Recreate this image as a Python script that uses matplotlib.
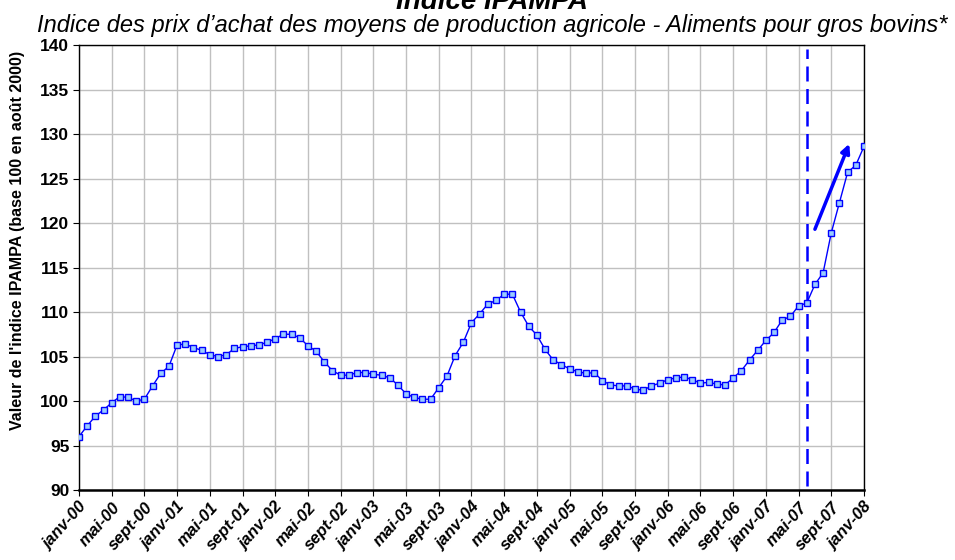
import matplotlib
matplotlib.use("Agg")
import matplotlib.pyplot as plt
import numpy as np

plt.rcParams['font.family'] = ['Liberation Sans', 'DejaVu Sans']

# Indice IPAMPA mensuel, de janv-00 à janv-08
indice = [96.0, 97.2, 98.3, 99.0, 99.8, 100.5, 100.4, 100.0, 100.2, 101.7, 103.1, 103.9,
          106.3, 106.4, 106.0, 105.7, 105.2, 105.0, 105.2, 105.9, 106.1, 106.2, 106.3, 106.6,
          107.0, 107.5, 107.5, 107.1, 106.2, 105.6, 104.4, 103.4, 102.9, 102.9, 103.2, 103.2,
          103.0, 102.9, 102.6, 101.8, 100.8, 100.4, 100.2, 100.2, 101.5, 102.8, 105.1, 106.6,
          108.8, 109.8, 110.9, 111.3, 112.0, 112.0, 110.0, 108.4, 107.4, 105.8, 104.6, 104.1,
          103.6, 103.3, 103.1, 103.2, 102.3, 101.8, 101.7, 101.7, 101.35, 101.2, 101.7, 102.0,
          102.4, 102.6, 102.7, 102.4, 102.0, 102.1, 101.9, 101.8, 102.6, 103.4, 104.6, 105.7,
          106.8, 107.7, 109.1, 109.5, 110.7, 111.0, 113.1, 114.4, 118.9, 122.3, 125.7, 126.5,
          128.6]

etiquettes = ["janv-00", "mai-00", "sept-00", "janv-01", "mai-01", "sept-01",
              "janv-02", "mai-02", "sept-02", "janv-03", "mai-03", "sept-03",
              "janv-04", "mai-04", "sept-04", "janv-05", "mai-05", "sept-05",
              "janv-06", "mai-06", "sept-06", "janv-07", "mai-07", "sept-07", "janv-08"]

mois = np.arange(len(indice))
mois_rupture = 89          # juin-07
fleche_debut = (90, 119.3)
fleche_fin = (94.2, 128.9)

fig = plt.figure(figsize=(9.55, 5.6), dpi=100)
ax = fig.add_axes([0.0827, 0.125, 0.822, 0.7946])

ax.plot(mois, indice, color='#0000ff', linewidth=1, marker='s', markersize=4.8,
        markerfacecolor='#99ccff', markeredgecolor='#0000ff', markeredgewidth=1, zorder=3)

# ligne de rupture en pointillés
ax.axvline(mois_rupture, ymin=0.01, ymax=0.99, color='#0000ff', linestyle=(0, (6, 3)),
           linewidth=1.8, zorder=2)

# flèche de tendance
ax.annotate("", xy=fleche_fin, xytext=fleche_debut,
            arrowprops=dict(arrowstyle='-|>', color='#0000ff', lw=2.5, mutation_scale=13,
                            shrinkA=0, shrinkB=0))

ax.set_xlim(0, len(indice) - 1)
ax.set_ylim(90, 140)
ax.set_xticks(mois[::4])
ax.set_xticklabels(etiquettes, rotation=48, ha='right', rotation_mode='anchor',
                   fontsize=12, fontweight='bold', fontstyle='italic')
ax.set_yticks(np.arange(90, 141, 5))
ax.tick_params(axis='y', labelsize=12.5, length=4, direction='out', pad=3)
ax.tick_params(axis='x', length=4, direction='out', pad=3)
for lab in ax.get_yticklabels():
    lab.set_fontweight('bold')

ax.grid(True, color='#c0c0c0', linewidth=1)
ax.set_axisbelow(True)
for s in ax.spines.values():
    s.set_color('black')
    s.set_linewidth(1)
ax.spines['bottom'].set_linewidth(1.8)

ax.set_ylabel("Valeur de l'indice IPAMPA (base 100 en août 2000)", fontsize=11.5,
              fontweight='bold')
ax.yaxis.set_label_coords(-0.069, 0.56)

fig.text(0.515, 0.984, "Indice IPAMPA", ha='center', va='baseline', fontsize=20,
         fontweight='bold', fontstyle='italic')
fig.text(0.515, 0.943, "Indice des prix d’achat des moyens de production agricole - Aliments pour gros bovins*",
         ha='center', va='baseline', fontsize=17, fontstyle='italic')

fig.savefig("out.png", dpi=100)
